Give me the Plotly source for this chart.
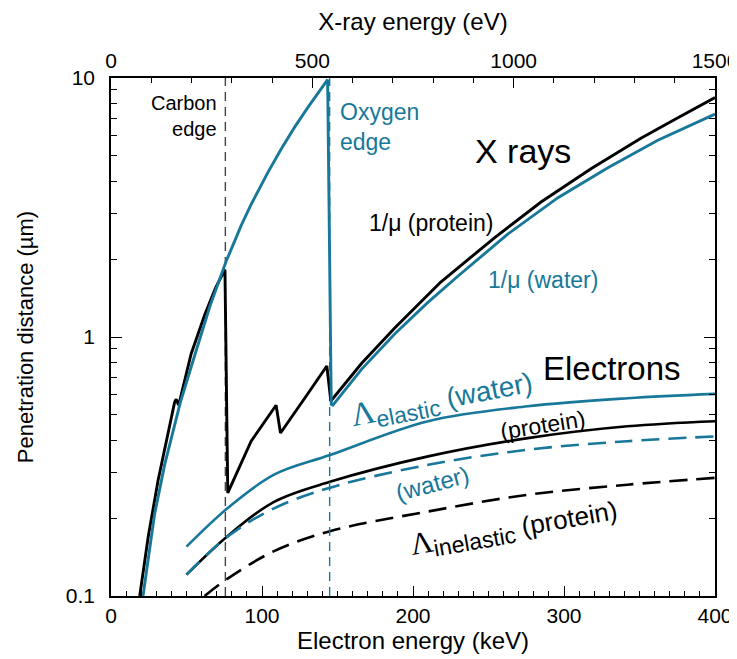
import plotly.graph_objects as go

BLUE = "#17789a"
BLACK = "#000000"

# X-ray attenuation length 1/mu, x in eV (top axis)
ev_water = [79.5, 108, 133, 173, 208, 246, 286, 324, 348, 390, 422, 456, 489, 514, 531, 538,
            547, 551, 622, 705, 787, 862, 986, 1110, 1234, 1358, 1500]
mu_water = [0.1, 0.206, 0.32, 0.565, 0.85, 1.32, 1.96, 2.71, 3.25, 4.33, 5.3, 6.46, 7.7, 8.75, 9.5, 9.85,
            0.55, 0.546, 0.75, 1.03, 1.36, 1.72, 2.5, 3.45, 4.5, 5.75, 7.25]

ev_protein = [71.3, 92.6, 117, 140, 158, 162, 168, 199, 233, 260, 283,
              290, 348, 410, 421, 481, 536,
              546, 622, 704, 819, 953, 1068, 1192, 1316, 1400, 1500]
mu_protein = [0.1, 0.17, 0.28, 0.41, 0.56, 0.575, 0.545, 0.86, 1.22, 1.55, 1.82,
              0.25, 0.396, 0.545, 0.426, 0.58, 0.773,
              0.566, 0.79, 1.08, 1.63, 2.42, 3.32, 4.46, 5.85, 6.92, 8.4]

# absorption edges (eV)
edge_ev = [284, 543]

# electron mean free paths, x in keV (bottom axis)
kev = [50, 77.5, 108, 145, 210, 276, 342, 400]
elastic_water = [0.155, 0.219, 0.294, 0.35, 0.473, 0.54, 0.58, 0.603]
elastic_protein = [0.121, 0.171, 0.231, 0.276, 0.346, 0.407, 0.452, 0.473]
inelastic_water = [0.121, 0.17, 0.218, 0.262, 0.321, 0.367, 0.396, 0.413]
kev_inel_protein = [62, 77.5, 108, 145, 210, 276, 342, 400]
inelastic_protein = [0.1, 0.117, 0.149, 0.178, 0.212, 0.246, 0.269, 0.286]

fig = go.Figure()

# edge markers
fig.add_trace(go.Scatter(x=[edge_ev[0]] * 2, y=[0.1, 10], xaxis="x2", mode="lines",
                         line=dict(color="#444444", width=1.4, dash="9px,6px")))
fig.add_trace(go.Scatter(x=[edge_ev[1]] * 2, y=[0.1, 10], xaxis="x2", mode="lines",
                         line=dict(color=BLUE, width=1.4, dash="9px,6px")))

# x rays
fig.add_trace(go.Scatter(x=ev_protein, y=mu_protein, xaxis="x2", mode="lines",
                         line=dict(color=BLACK, width=2.9)))
fig.add_trace(go.Scatter(x=ev_water, y=mu_water, xaxis="x2", mode="lines",
                         line=dict(color=BLUE, width=2.9)))

# electrons
fig.add_trace(go.Scatter(x=kev, y=elastic_water, mode="lines",
                         line=dict(color=BLUE, width=2.6, shape="spline")))
fig.add_trace(go.Scatter(x=kev, y=elastic_protein, mode="lines",
                         line=dict(color=BLACK, width=2.6, shape="spline")))
fig.add_trace(go.Scatter(x=kev, y=inelastic_water, mode="lines",
                         line=dict(color=BLUE, width=2.6, shape="spline", dash="18px,9px")))
fig.add_trace(go.Scatter(x=kev_inel_protein, y=inelastic_protein, mode="lines",
                         line=dict(color=BLACK, width=2.6, shape="spline", dash="18px,9px")))


def lam(size):
    return f'<span style="font-family:Liberation Serif;font-size:{size}px">Λ</span>'


# labels (x in keV, y in log10 units)
labels = [
    ("Carbon<br>edge", 71.5, 0.855, 20, BLACK, 0, "right"),
    ("Oxygen<br>edge", 150.3, 0.81, 23, BLUE, 0, "left"),
    ("X rays", 273, 0.718, 34, BLACK, 0, "center"),
    ("1/μ (protein)", 211.6, 0.44, 23, BLACK, 0, "center"),
    ("1/μ (water)", 285.8, 0.221, 23, BLUE, 0, "center"),
    ("Electrons", 332, -0.12, 33, BLACK, 0, "center"),
    (lam(33) + '<sub><span style="font-size:23px">elastic</span></sub> (water)',
     219, -0.245, 28, BLUE, -11, "center"),
    ("(protein)", 286, -0.34, 23, BLACK, -9, "center"),
    ("(water)", 213, -0.564, 24, BLUE, -15, "center"),
    (lam(31) + '<sub><span style="font-size:23px">inelastic</span></sub> (protein)',
     267, -0.737, 26, BLACK, -10, "center"),
]
for text, x, y, size, color, angle, anchor in labels:
    fig.add_annotation(x=x, y=y, xref="x", yref="y", text=text, showarrow=False,
                       font=dict(size=size, color=color), textangle=angle,
                       xanchor=anchor, align=anchor)

axis_common = dict(showline=True, linecolor="black", linewidth=1.6, showgrid=False,
                   zeroline=False, ticks="inside", tickcolor="black", tickwidth=1.3,
                   automargin=False, tickfont=dict(size=21, color="black"))

fig.update_layout(
    width=737, height=659,
    margin=dict(l=103, r=30, t=70, b=71),
    paper_bgcolor="white", plot_bgcolor="white",
    font=dict(family="Liberation Sans, Arial, sans-serif", color="black"),
    showlegend=False,
    xaxis=dict(range=[0, 400], tick0=0, dtick=100, ticklen=10,
               minor=dict(ticks="inside", dtick=10, ticklen=5, tickwidth=1.2, tickcolor="black"),
               title=dict(text="Electron energy (keV)", font=dict(size=24), standoff=6),
               **axis_common),
    xaxis2=dict(range=[0, 1500], tick0=0, dtick=500, ticklen=10, overlaying="x", side="top",
                minor=dict(ticks="inside", dtick=100, ticklen=5, tickwidth=1.2, tickcolor="black"),
                title=dict(text="X-ray energy (eV)", font=dict(size=24), standoff=13),
                **axis_common),
    yaxis=dict(type="log", range=[-1, 1], tickvals=[0.1, 1, 10], ticktext=["0.1", "1", "10"],
               ticklen=11, mirror="ticks", ticklabelstandoff=10,
               minor=dict(ticks="inside", dtick="D1", ticklen=6, tickwidth=1.2, tickcolor="black"),
               title=dict(text="Penetration distance (µm)", font=dict(size=22), standoff=26),
               **axis_common),
)

fig.write_html("out.html")
